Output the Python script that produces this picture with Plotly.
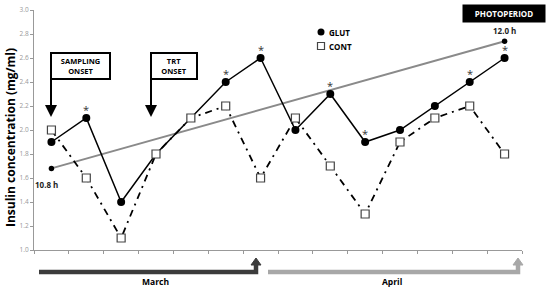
import plotly.graph_objects as go

# sampling points (weekly samples, March -> April)
samples = list(range(1, 15))
glut = [1.9, 2.1, 1.4, 1.8, 2.1, 2.4, 2.6, 2.0, 2.3, 1.9, 2.0, 2.2, 2.4, 2.6]
cont = [2.0, 1.6, 1.1, 1.8, 2.1, 2.2, 1.6, 2.1, 1.7, 1.3, 1.9, 2.1, 2.2, 1.8]
signif = [2, 6, 7, 9, 10, 13, 14]  # samples marked with *
photo_x = [1, 14]
photo_y = [1.68, 2.74]
photo_labels = ["10.8 h", "12.0 h"]
y_ticks = [1.0, 1.2, 1.4, 1.6, 1.8, 2.0, 2.2, 2.4, 2.6, 2.8, 3.0]

FONT = "Open Sans"
W, H = 550, 289
L, R, T, B = 34, 28, 10, 39


def px(x):
    # page pixel -> paper
    return (x - L) / (W - L - R)


def py(y):
    return (H - B - y) / (H - T - B)


def txt(x, y, text, size, color="black", **kw):
    return dict(xref="paper", yref="paper", x=px(x), y=py(y), text=text,
                showarrow=False, xanchor=kw.pop("xanchor", "center"),
                yanchor=kw.pop("yanchor", "middle"),
                font=dict(size=size, color=color, family=FONT), **kw)


fig = go.Figure()

fig.add_trace(go.Scatter(
    x=photo_x, y=photo_y, mode="lines+markers", showlegend=False,
    line=dict(color="#8a8a8a", width=2),
    marker=dict(color="black", size=5.5),
))
fig.add_trace(go.Scatter(
    x=samples, y=glut, mode="lines+markers", name="GLUT", showlegend=False,
    line=dict(color="black", width=1.5),
    marker=dict(symbol="circle", color="black", size=8),
))
fig.add_trace(go.Scatter(
    x=samples, y=cont, mode="lines+markers", name="CONT", showlegend=False,
    line=dict(color="black", width=1.8, dash="7px,5px,2px,5px"),
    marker=dict(symbol="square", color="white", size=8,
                line=dict(color="#444444", width=1.2)),
))

ann = []
for s in signif:
    ann.append(dict(x=s, y=glut[s - 1], text="*", showarrow=False, yshift=9,
                    font=dict(size=11, color="#333333", family=FONT)))

ann.append(dict(x=photo_x[0], y=photo_y[0], text="<b>" + photo_labels[0] + "</b>",
                showarrow=False, xshift=-5, yshift=-16,
                font=dict(size=8, color="#222222", family=FONT)))
ann.append(dict(x=photo_x[1], y=photo_y[1], text="<b>" + photo_labels[1] + "</b>",
                showarrow=False, yshift=11,
                font=dict(size=8, color="#222222", family=FONT)))

# onset flags
for xpos, label, w in [(51, "SAMPLING<br>ONSET", 59), (151, "TRT<br>ONSET", 46)]:
    ann.append(dict(xref="paper", yref="paper", x=px(xpos), y=py(117),
                    ax=0, ay=-41, text="", showarrow=True, arrowhead=2,
                    arrowsize=1.2, arrowwidth=2, arrowcolor="black"))
    ann.append(txt(xpos - 1, 52, "<b>" + label + "</b>", 7.5,
                   xanchor="left", yanchor="top", bordercolor="black",
                   borderwidth=2, borderpad=2, bgcolor="white", width=w - 6))

ann.append(txt(504, 13.5, "<b>PHOTOPERIOD</b>", 8, color="white",
               bgcolor="black", borderpad=3, width=76))

# legend (drawn by hand to get the tight spacing)
ann.append(txt(327, 32, "<b>GLUT</b>", 8, xanchor="left"))
ann.append(txt(327, 46, "<b>CONT</b>", 8, xanchor="left"))

ann.append(txt(10, 138, "<b>Insulin concentration (mg/ml)</b>", 12,
               textangle=-90))
ann.append(txt(155, 281, "<b>March</b>", 8.5))
ann.append(txt(392, 281, "<b>April</b>", 8.5))

shapes = [
    dict(type="circle", xref="paper", yref="paper",
         x0=px(317.5), x1=px(324.5), y0=py(28.5), y1=py(35.5),
         fillcolor="black", line=dict(color="black", width=0)),
    dict(type="rect", xref="paper", yref="paper",
         x0=px(317.5), x1=px(324.5), y0=py(42.5), y1=py(49.5),
         fillcolor="white", line=dict(color="#444444", width=1.2)),
]
# month arrows below the axis
for x0, x1, col in [(39, 256, "#3c3c3c"), (268, 518, "#a8a8a8")]:
    shapes.append(dict(type="path", xref="paper", yref="paper",
                       path=f"M {px(x0)},{py(272)} L {px(x1)},{py(272)} L {px(x1)},{py(264)}",
                       line=dict(color=col, width=4.5)))
    shapes.append(dict(type="path", xref="paper", yref="paper",
                       path=f"M {px(x1 - 5)},{py(265)} L {px(x1)},{py(258)} L {px(x1 + 5)},{py(265)} Z",
                       fillcolor=col, line=dict(color=col, width=1)))

fig.update_layout(
    width=W, height=H,
    margin=dict(l=L, r=R, t=T, b=B, autoexpand=False),
    plot_bgcolor="white", paper_bgcolor="white",
    font=dict(family=FONT), showlegend=False,
    annotations=ann, shapes=shapes,
    xaxis=dict(range=[0.5, 14.5], showgrid=False, zeroline=False,
               showline=True, linecolor="#999999", linewidth=1,
               tickvals=[i + 0.5 for i in range(0, 15)], ticktext=[""] * 15,
               ticks="outside", ticklen=3, tickcolor="#999999"),
    yaxis=dict(range=[1.0, 3.0], showgrid=False, zeroline=False,
               showline=True, linecolor="#999999", linewidth=1,
               tickvals=y_ticks, tickformat=".1f", ticks="outside",
               ticklen=3, tickcolor="#999999", ticklabeloverflow="allow",
               tickfont=dict(size=6.5, color="#999999", family=FONT)),
)

# drop the browser's default 8px body margin so the figure fills the window
fig.write_html("out.html", config={"displayModeBar": False},
               post_script="document.body.style.margin='0';")
